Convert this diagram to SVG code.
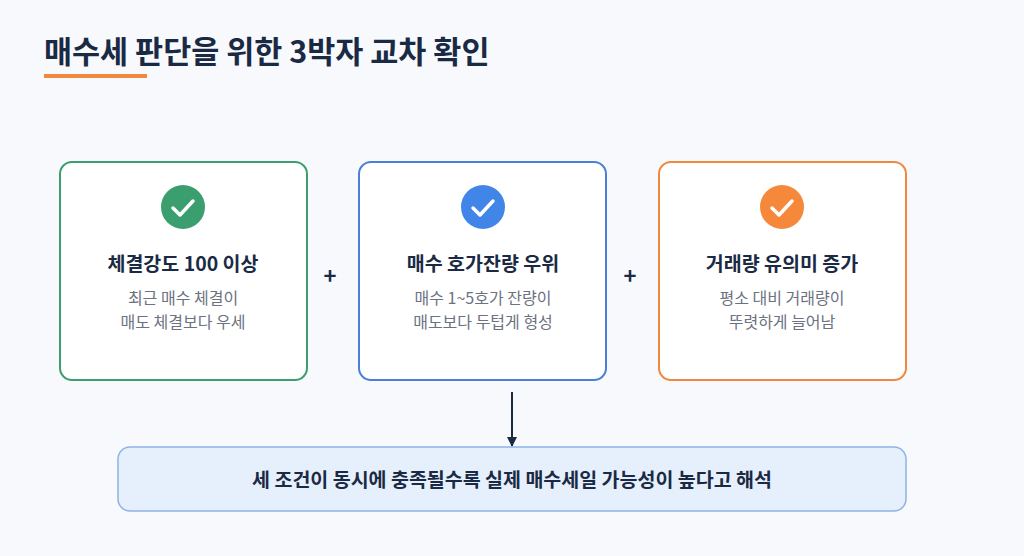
<svg xmlns="http://www.w3.org/2000/svg" width="1024" height="556" viewBox="0 0 1024 556">
<style>
text{font-family:"Noto Sans CJK KR","Noto Sans",sans-serif;text-anchor:middle}
.t{font-size:19.5px;font-weight:700;fill:#1b2a44}
.d{font-size:16px;fill:#6b7280}
.card{fill:#fff;stroke-width:2}
.chk{fill:none;stroke:#fff;stroke-width:3.5;stroke-linecap:round;stroke-linejoin:round}
.plus{font-size:22px;font-weight:700;fill:#1b2a44}
</style>
<defs><marker id="ah" markerWidth="10" markerHeight="10" refX="9" refY="5" orient="auto" markerUnits="userSpaceOnUse"><path d="M0,0L10,5L0,10Z" fill="#1b2a44"/></marker></defs>
<rect width="1024" height="556" fill="#f7f9fc"/>
<g id="title">
<text x="44" y="63" style="text-anchor:start;font-size:30.5px;font-weight:700;fill:#1b2a44">매수세 판단을 위한 3박자 교차 확인</text>
<rect x="44" y="74" width="103" height="4" fill="#f0883e"/>
</g>
<g id="n1">
<rect class="card" x="60" y="162" width="247" height="218" rx="12" stroke="#3a9e6e"/>
<circle cx="183" cy="207" r="22" fill="#3a9e6e"/><path class="chk" d="M173,208l7,7l13,-14"/>
<text class="t" x="183" y="271">체결강도 100 이상</text>
<text class="d" x="183" y="304">최근 매수 체결이</text>
<text class="d" x="183" y="328">매도 체결보다 우세</text>
</g>
<g id="n2">
<rect class="card" x="359" y="162" width="247" height="218" rx="12" stroke="#4a80d8"/>
<circle cx="483" cy="207" r="22" fill="#4285e8"/><path class="chk" d="M473,208l7,7l13,-14"/>
<text class="t" x="483" y="271">매수 호가잔량 우위</text>
<text class="d" x="483" y="304">매수 1~5호가 잔량이</text>
<text class="d" x="483" y="328">매도보다 두텁게 형성</text>
</g>
<g id="n3">
<rect class="card" x="659" y="162" width="247" height="218" rx="12" stroke="#f0883e"/>
<circle cx="782" cy="207" r="22" fill="#f5883a"/><path class="chk" d="M772,208l7,7l13,-14"/>
<text class="t" x="782" y="271">거래량 유의미 증가</text>
<text class="d" x="782" y="304">평소 대비 거래량이</text>
<text class="d" x="782" y="328">뚜렷하게 늘어남</text>
</g>
<text class="plus" x="330" y="284">+</text>
<text class="plus" x="630" y="284">+</text>
<g id="connectors"><line x1="512" y1="392" x2="512" y2="446" stroke="#1b2a44" stroke-width="2" marker-end="url(#ah)"/></g>
<g id="result">
<rect x="118" y="447" width="788" height="64" rx="12" fill="#e6f0fc" stroke="#8fb3e3" stroke-width="1.5"/>
<text class="t" x="512" y="487" style="font-size:19.5px">세 조건이 동시에 충족될수록 실제 매수세일 가능성이 높다고 해석</text>
</g>
</svg>
